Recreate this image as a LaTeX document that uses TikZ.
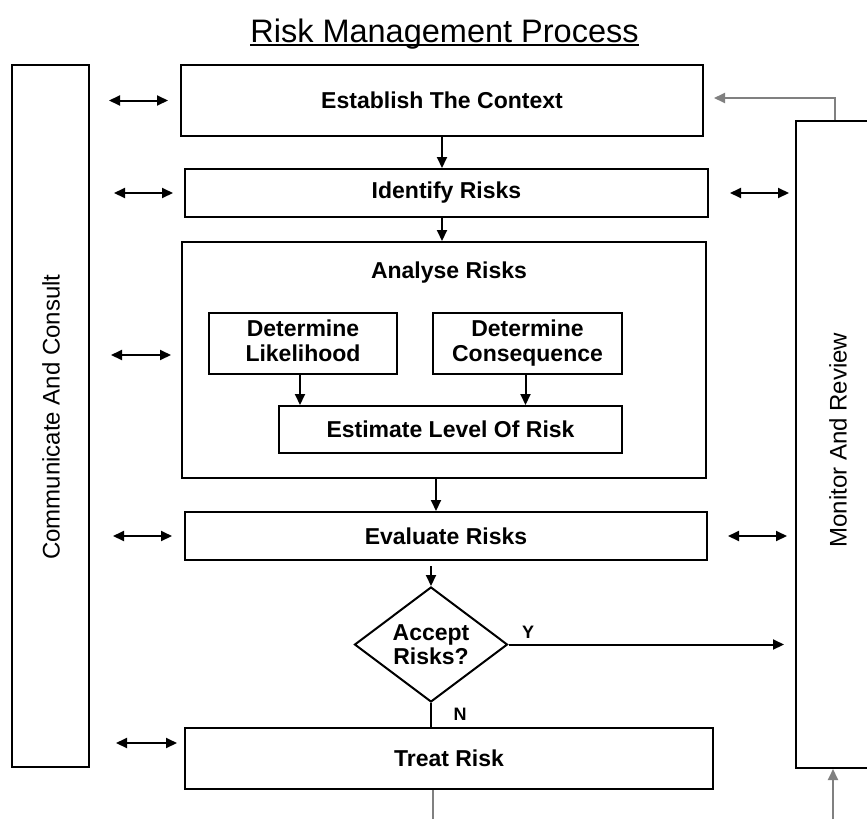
\documentclass[tikz,border=0pt]{standalone}
\usepackage{fontspec}
\setmainfont{Liberation Sans}
\usetikzlibrary{arrows.meta,shapes.geometric}
\begin{document}
\begin{tikzpicture}[x=1pt,y=-1pt,
  box/.style={draw,line width=2pt,inner sep=0pt,align=center,font=\bfseries\fontsize{23}{27}\selectfont},
  txt/.style={inner sep=0pt,align=center,font=\bfseries\fontsize{23}{27}\selectfont},
  vtxt/.style={inner sep=0pt,rotate=90,font=\fontsize{24}{28}\selectfont},
  lbl/.style={inner sep=0pt,font=\bfseries\fontsize{18}{20}\selectfont},
  arr/.style={line width=2pt,-{Triangle[length=11pt,width=10pt]}},
  dbl/.style={line width=2pt,{Triangle[length=11pt,width=10pt]}-{Triangle[length=11pt,width=10pt]}},
  garr/.style={arr,draw=black!50},
  plain/.style={line width=2pt}]
\path[use as bounding box,clip] (0,0) rectangle (867,819);
\fill[white] (0,0) rectangle (867,819);
% title
\node[inner sep=0pt,anchor=base,font=\fontsize{32.5}{36}\selectfont] (title) at (444.5,42) {Risk Management Process};
\draw[line width=2pt] ([yshift=-3pt]title.base west) -- ([yshift=-3pt]title.base east);
% side boxes
\node[box,minimum width=77,minimum height=702] (comm) at (50.5,416) {};
\node[vtxt] (commt) at (51,417) {Communicate And Consult};
\node[box,minimum width=84,minimum height=647] (mon) at (838,444.5) {};
\node[vtxt] (mont) at (838,440) {Monitor And Review};
% main column
\node[box,minimum width=522,minimum height=71] (ctx) at (442,100.5) {Establish The Context};
\node[box,minimum width=523,minimum height=48] (ident) at (446.5,193) {Identify Risks};
\node[box,minimum width=524,minimum height=236] (analyse) at (444,360) {};
\node[txt] (antxt) at (449,273) {Analyse Risks};
\node[box,minimum width=188,minimum height=61] (lik) at (303,343.5) {Determine\\[-2pt]Likelihood\vphantom{q}};
\node[box,minimum width=189,minimum height=61] (con) at (527.5,343.5) {Determine\\[-2pt]Consequence};
\node[box,minimum width=343,minimum height=47] (est) at (450.5,429.5) {Estimate Level Of Risk};
\node[box,minimum width=522,minimum height=48] (eval) at (446,536) {Evaluate Risks};
\node[box,diamond,shape aspect=1.33,minimum width=153,minimum height=115] (dia) at (431,644.5) {Accept\\[-3pt]Risks?};
\node[box,minimum width=528,minimum height=61] (treat) at (449,758.5) {Treat Risk};
\node[lbl] (ylbl) at (528,632) {Y};
\node[lbl] (nlbl) at (460,714) {N};
\coordinate (bottomL) at (433,819);
\coordinate (bottomR) at (833,819);
% flow arrows
\draw[arr] (ctx.south) -- (ctx.south |- ident.north);
\draw[arr] (ctx.south |- ident.south) -- (ctx.south |- analyse.north);
\draw[arr] ([xshift=-3pt]lik.south) -- ([xshift=-3pt]lik.south |- est.north);
\draw[arr] ([xshift=-2pt]con.south) -- ([xshift=-2pt]con.south |- est.north);
\draw[arr] ([xshift=-8pt]analyse.south) -- ([xshift=-8pt]analyse.south |- eval.north);
\draw[arr] ([yshift=20pt]dia.north) -- (dia.north);
\draw[arr] (dia.east) -- ([xshift=-11pt]mon.west |- dia.east);
\draw[plain] (dia.south) -- (dia.south |- treat.north);
\draw[plain,draw=black!50] (treat.south -| bottomL) -- (bottomL);
\draw[garr] (bottomR) -- (bottomR |- mon.south);
\draw[garr] ([xshift=-3pt]mon.north) |- ([xshift=10pt,yshift=2.5pt]ctx.east);
% communicate double arrows
\draw[dbl] ([xshift=19pt]comm.east |- ctx.west) -- ([xshift=-12pt]ctx.west);
\draw[dbl] ([xshift=24pt]comm.east |- ident.west) -- ([xshift=-11pt]ident.west);
\draw[dbl] ([xshift=21pt,yshift=5pt]comm.east |- analyse.west) -- ([xshift=-10pt,yshift=5pt]analyse.west);
\draw[dbl] ([xshift=23pt]comm.east |- eval.west) -- ([xshift=-12pt]eval.west);
\draw[dbl] ([xshift=26pt,yshift=15.5pt]comm.east |- treat.west) -- ([xshift=-7pt,yshift=15.5pt]treat.west);
% monitor double arrows
\draw[dbl] ([xshift=21pt]ident.east) -- ([xshift=-6pt]mon.west |- ident.east);
\draw[dbl] ([xshift=20pt]eval.east) -- ([xshift=-8pt]mon.west |- eval.east);
\end{tikzpicture}
\end{document}
